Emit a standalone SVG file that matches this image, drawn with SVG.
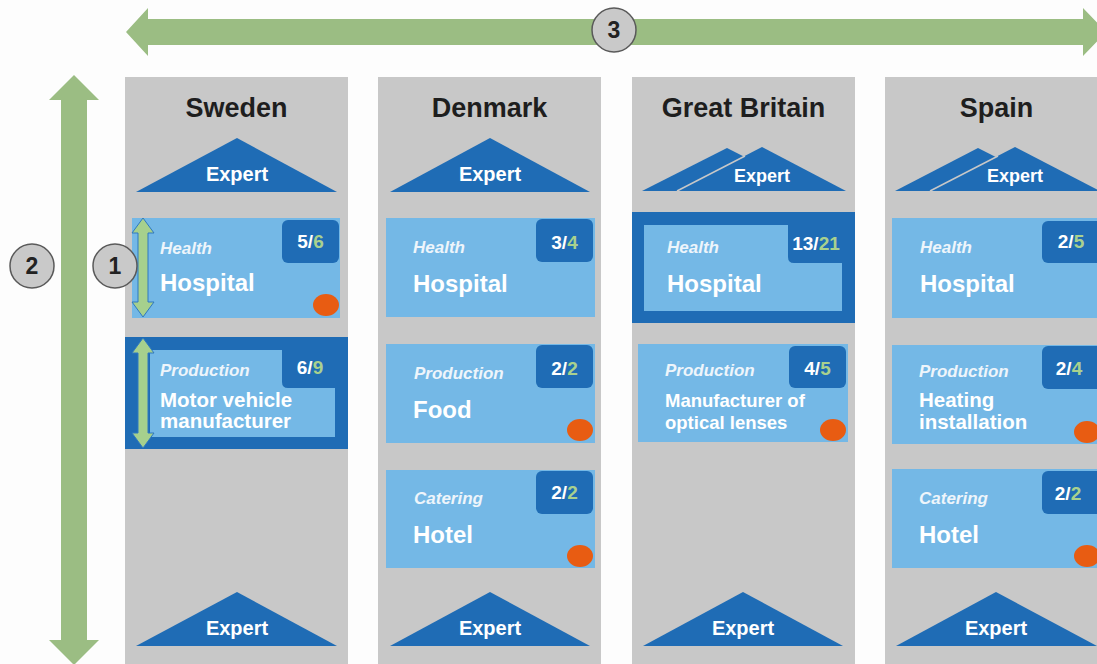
<svg xmlns="http://www.w3.org/2000/svg" width="1097" height="664" viewBox="0 0 1097 664">
<style>
.bg{fill:#fdfdfd}
.col{fill:#c8c8c8}
.box{fill:#74b8e6}
.dark{fill:#1f6cb5}
.dot{fill:#e85c12}
.axis{fill:#9bbd83}
.mini{fill:#a6d08d;stroke:#2f78bf;stroke-width:1}
.circ{fill:#c9c9c9;stroke:#5a5a5a;stroke-width:1.5}
.num{font-family:"Liberation Sans",Arial,sans-serif;font-weight:bold;font-size:23px;fill:#222;text-anchor:middle}
.title{font-family:"Liberation Sans",Arial,sans-serif;font-weight:bold;font-size:27px;fill:#1e1e1e;text-anchor:middle}
.exp{font-family:"Liberation Sans",Arial,sans-serif;font-weight:bold;font-size:20px;fill:#fff;text-anchor:middle}
.exps{font-family:"Liberation Sans",Arial,sans-serif;font-weight:bold;font-size:18px;fill:#fff;text-anchor:middle}
.cat{font-family:"Liberation Sans",Arial,sans-serif;font-weight:bold;font-style:italic;font-size:17px;fill:#eef5fb}
.lbl{font-family:"Liberation Sans",Arial,sans-serif;font-weight:bold;font-size:24px;fill:#fff}
.lbl2{font-family:"Liberation Sans",Arial,sans-serif;font-weight:bold;font-size:20.5px;fill:#fff}
.lbl3{font-family:"Liberation Sans",Arial,sans-serif;font-weight:bold;font-size:18.5px;fill:#fff}
.cnt{font-family:"Liberation Sans",Arial,sans-serif;font-weight:bold;font-size:19px;fill:#fff;text-anchor:middle}
.g{fill:#a9d18e}
.sep{stroke:#c8c8c8;stroke-width:1.5}
</style>
<rect class="bg" x="0" y="0" width="1097" height="664"/>

<g id="connectors">
  <polygon class="axis" points="126,32 148,8 148,19 1083,19 1083,8 1106,32 1083,56 1083,45 148,45 148,56"/>
  <polygon class="axis" points="74,75 99,100 87,100 87,640 99,640 74,665 49,640 61,640 61,100 49,100"/>
</g>

<g id="col-sweden">
  <rect class="col" x="125" y="77" width="223" height="600"/>
  <text class="title" x="236.5" y="117">Sweden</text>
  <polygon class="dark" points="136,192 237,138 337,192"/>
  <text class="exp" x="237" y="181">Expert</text>
  <polygon class="dark" points="136,646 237,592 337,646"/>
  <text class="exp" x="237" y="635">Expert</text>
</g>
<g id="col-denmark">
  <rect class="col" x="378" y="77" width="223" height="600"/>
  <text class="title" x="489.5" y="117">Denmark</text>
  <polygon class="dark" points="390,192 490,138 590,192"/>
  <text class="exp" x="490" y="181">Expert</text>
  <polygon class="dark" points="390,646 490,592 590,646"/>
  <text class="exp" x="490" y="635">Expert</text>
</g>
<g id="col-gb">
  <rect class="col" x="632" y="77" width="223" height="600"/>
  <text class="title" x="743.5" y="117">Great Britain</text>
  <polygon class="dark" points="642,191 727,148 812,191"/>
  <polygon class="dark" points="677,191 762,147 846,191"/>
  <line class="sep" x1="677" y1="191" x2="745" y2="156"/>
  <text class="exps" x="762" y="182">Expert</text>
  <polygon class="dark" points="643,646 743,592 843,646"/>
  <text class="exp" x="743" y="635">Expert</text>
</g>
<g id="col-spain">
  <rect class="col" x="885" y="77" width="223" height="600"/>
  <text class="title" x="996.5" y="117">Spain</text>
  <polygon class="dark" points="895,191 978,148 1063,191"/>
  <polygon class="dark" points="930,191 1015,147 1100,191"/>
  <line class="sep" x1="930" y1="191" x2="998" y2="156"/>
  <text class="exps" x="1015" y="182">Expert</text>
  <polygon class="dark" points="896,646 996,592 1097,646"/>
  <text class="exp" x="996" y="635">Expert</text>
</g>

<g id="se-hospital">
  <rect class="box" x="132" y="218" width="208" height="100"/>
  <rect class="dark" x="282" y="220" width="57" height="43" rx="6"/>
  <text class="cnt" x="310.5" y="248">5/<tspan class="g">6</tspan></text>
  <text class="cat" x="160" y="254">Health</text>
  <text class="lbl" x="160" y="291">Hospital</text>
  <ellipse class="dot" cx="326" cy="305" rx="13" ry="11"/>
</g>
<g id="se-production">
  <rect class="dark" x="125" y="337" width="223" height="112"/>
  <path class="box" d="M150,350 H282 V382 Q282,388 288,388 H335 V437 H150 Z"/>
  <text class="cnt" x="310" y="374">6/<tspan class="g">9</tspan></text>
  <text class="cat" x="160" y="376">Production</text>
  <text class="lbl2" x="160" y="407">Motor vehicle</text>
  <text class="lbl2" x="160" y="428">manufacturer</text>
</g>

<g id="dk-hospital">
  <rect class="box" x="386" y="218" width="209" height="99"/>
  <rect class="dark" x="536" y="219" width="57" height="43" rx="6"/>
  <text class="cnt" x="564.5" y="249">3/<tspan class="g">4</tspan></text>
  <text class="cat" x="413" y="253">Health</text>
  <text class="lbl" x="413" y="292">Hospital</text>
</g>
<g id="dk-food">
  <rect class="box" x="386" y="344" width="209" height="99"/>
  <rect class="dark" x="536" y="345" width="57" height="43" rx="6"/>
  <text class="cnt" x="564.5" y="375">2/<tspan class="g">2</tspan></text>
  <text class="cat" x="414" y="379">Production</text>
  <text class="lbl" x="413" y="418">Food</text>
  <ellipse class="dot" cx="580" cy="430" rx="13" ry="11"/>
</g>
<g id="dk-hotel">
  <rect class="box" x="386" y="470" width="209" height="98"/>
  <rect class="dark" x="536" y="471" width="57" height="43" rx="6"/>
  <text class="cnt" x="564.5" y="499">2/<tspan class="g">2</tspan></text>
  <text class="cat" x="414" y="504">Catering</text>
  <text class="lbl" x="413" y="543">Hotel</text>
  <ellipse class="dot" cx="580" cy="556" rx="13" ry="11"/>
</g>

<g id="gb-hospital">
  <rect class="dark" x="632" y="212" width="223" height="111"/>
  <path class="box" d="M644,225 H788 V257 Q788,263 794,263 H842 V311 H644 Z"/>
  <text class="cnt" x="816" y="250">13/<tspan class="g">21</tspan></text>
  <text class="cat" x="667" y="253">Health</text>
  <text class="lbl" x="667" y="292">Hospital</text>
</g>
<g id="gb-production">
  <rect class="box" x="638" y="344" width="210" height="98"/>
  <rect class="dark" x="789" y="346" width="57" height="42" rx="6"/>
  <text class="cnt" x="817.5" y="375">4/<tspan class="g">5</tspan></text>
  <text class="cat" x="665" y="376">Production</text>
  <text class="lbl3" x="665" y="407">Manufacturer of</text>
  <text class="lbl3" x="665" y="429">optical lenses</text>
  <ellipse class="dot" cx="833" cy="430" rx="13" ry="11"/>
</g>

<g id="es-hospital">
  <rect class="box" x="892" y="218" width="215" height="100"/>
  <rect class="dark" x="1042" y="221" width="62" height="42" rx="6"/>
  <text class="cnt" x="1071" y="248">2/<tspan class="g">5</tspan></text>
  <text class="cat" x="920" y="253">Health</text>
  <text class="lbl" x="920" y="292">Hospital</text>
</g>
<g id="es-heating">
  <rect class="box" x="892" y="345" width="215" height="99"/>
  <rect class="dark" x="1042" y="346" width="62" height="43" rx="6"/>
  <text class="cnt" x="1069" y="375">2/<tspan class="g">4</tspan></text>
  <text class="cat" x="919" y="377">Production</text>
  <text class="lbl2" x="919" y="407">Heating</text>
  <text class="lbl2" x="919" y="429">installation</text>
  <ellipse class="dot" cx="1087" cy="432" rx="13" ry="11"/>
</g>
<g id="es-hotel">
  <rect class="box" x="892" y="469" width="215" height="99"/>
  <rect class="dark" x="1042" y="471" width="62" height="43" rx="6"/>
  <text class="cnt" x="1068" y="500">2/<tspan class="g">2</tspan></text>
  <text class="cat" x="919" y="504">Catering</text>
  <text class="lbl" x="919" y="543">Hotel</text>
  <ellipse class="dot" cx="1087" cy="556" rx="13" ry="11"/>
</g>

<g id="marker-1">
  <polygon class="mini" points="143,218 154,233 148,233 148,302 154,302 143,317 132,302 138,302 138,233 132,233"/>
  <polygon class="mini" points="143,338 154,353 148,353 148,433 154,433 143,448 132,433 138,433 138,353 132,353"/>
  <circle class="circ" cx="115" cy="266" r="22"/>
  <text class="num" x="115" y="274">1</text>
</g>
<g id="marker-2">
  <circle class="circ" cx="32" cy="266" r="22"/>
  <text class="num" x="32" y="274">2</text>
</g>
<g id="marker-3">
  <circle class="circ" cx="614" cy="30" r="22"/>
  <text class="num" x="614" y="38">3</text>
</g>
</svg>
